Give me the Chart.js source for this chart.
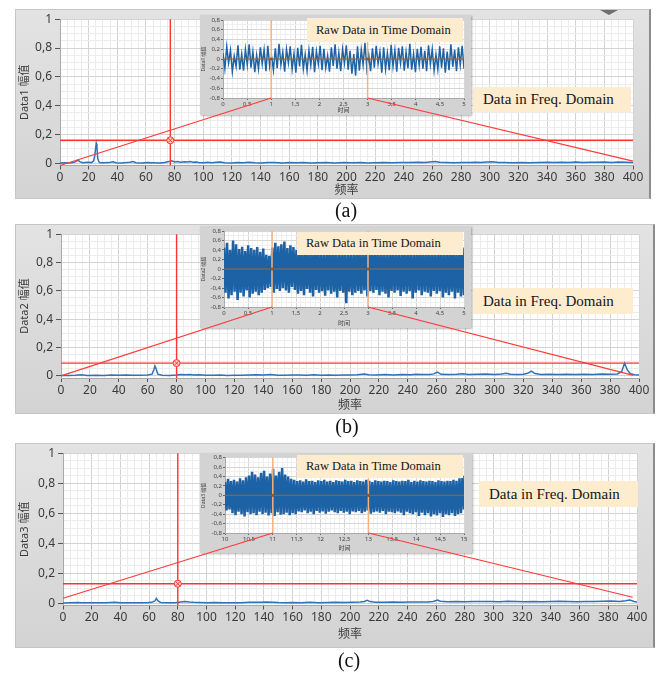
<!DOCTYPE html>
<html>
<head>
<meta charset="utf-8">
<script src="https://cdn.jsdelivr.net/npm/chart.js@4.4.0/dist/chart.umd.min.js"></script>
<style>
body{margin:0;background:#fff;width:662px;height:673px;position:relative;overflow:hidden}
.frame{position:absolute;box-sizing:border-box;background:linear-gradient(#e3e3e3,#d3d3d3);border:1px solid #c6c6c6;border-right:2px solid #8c8c8c}
.inset{position:absolute;background:#d3d3d3;box-shadow:1px 1px 2px rgba(0,0,0,.3)}
.tag{position:absolute;box-sizing:border-box;background:#fdecce;font-family:"Liberation Serif",serif;color:#151515;display:flex;align-items:center;white-space:nowrap}
.cap{position:absolute;font-family:"Liberation Serif",serif;font-size:20px;color:#111;transform:translate(-50%,-50%)}
canvas{position:absolute}
.tri{position:absolute;left:600px;top:10px;width:0;height:0;border-left:9px solid transparent;border-right:9px solid transparent;border-top:5px solid #6e6e6e}
</style>
</head>
<body>
<script>
// ---- data ----
var spectrumA = [[0,0.003],[3,0.004],[6,0.003],[9,0.006],[11,0.012],[12.5,0.022],[14,0.01],[16,0.004],[19,0.007],[22,0.005],[23.5,0.018],[24.3,0.055],[24.8,0.1],[25.3,0.138],[25.8,0.11],[26.4,0.03],[27.5,0.006],[30,0.004],[34,0.005],[37,0.011],[39,0.004],[43,0.003],[46,0.005],[49,0.008],[51,0.013],[53,0.004],[57,0.003],[61,0.005],[65,0.004],[69,0.003],[73,0.006],[76,0.012],[78,0.017],[80,0.009],[82,0.013],[84,0.008],[87,0.011],[89,0.009],[91,0.012],[93,0.007],[95,0.01],[97,0.006],[100,0.004],[103,0.008],[106,0.004],[109,0.007],[112,0.01],[115,0.004],[120,0.003],[124,0.005],[128,0.004],[132,0.007],[136,0.004],[140,0.003],[145,0.005],[150,0.006],[155,0.003],[160,0.005],[165,0.004],[170,0.006],[175,0.003],[180,0.004],[186,0.005],[192,0.003],[198,0.005],[204,0.004],[210,0.006],[215,0.003],[220,0.004],[226,0.005],[232,0.004],[238,0.006],[244,0.005],[250,0.007],[255,0.005],[258,0.009],[262,0.013],[265,0.007],[270,0.005],[275,0.004],[280,0.006],[286,0.005],[290,0.008],[294,0.006],[298,0.009],[302,0.011],[306,0.006],[310,0.005],[316,0.004],[322,0.005],[328,0.004],[334,0.006],[340,0.007],[345,0.005],[350,0.008],[355,0.006],[360,0.009],[365,0.006],[370,0.008],[375,0.007],[380,0.009],[385,0.006],[390,0.009],[395,0.007],[400,0.005]];
var spectrumB = [[0,0.002],[5,0.003],[10,0.004],[14,0.008],[18,0.003],[24,0.005],[30,0.003],[35,0.006],[40,0.004],[45,0.007],[50,0.005],[55,0.004],[60,0.006],[63,0.012],[64.3,0.045],[65,0.07],[65.8,0.05],[67,0.012],[70,0.004],[75,0.003],[80,0.006],[83,0.01],[86,0.008],[89,0.01],[92,0.006],[96,0.008],[100,0.005],[105,0.004],[110,0.006],[115,0.003],[120,0.005],[125,0.004],[130,0.007],[135,0.008],[140,0.007],[145,0.009],[150,0.005],[155,0.004],[160,0.006],[165,0.007],[170,0.005],[175,0.008],[180,0.004],[185,0.006],[190,0.005],[195,0.007],[200,0.006],[205,0.008],[210,0.014],[213,0.008],[218,0.006],[224,0.009],[230,0.007],[236,0.01],[242,0.008],[246,0.012],[250,0.009],[255,0.01],[258,0.014],[260.5,0.026],[263,0.011],[268,0.009],[274,0.012],[278,0.015],[282,0.009],[288,0.011],[294,0.013],[300,0.01],[305,0.014],[308,0.018],[311,0.012],[316,0.01],[320,0.012],[323,0.018],[325.5,0.033],[328,0.016],[332,0.01],[338,0.011],[344,0.009],[350,0.012],[356,0.01],[362,0.012],[368,0.01],[374,0.013],[380,0.011],[385,0.014],[388,0.03],[390,0.09],[392,0.04],[394,0.015],[397,0.008],[400,0.006]];
var spectrumC = [[0,0.002],[5,0.003],[10,0.005],[13,0.003],[18,0.004],[24,0.003],[30,0.004],[36,0.006],[40,0.004],[46,0.003],[52,0.004],[58,0.003],[62,0.006],[64,0.015],[65,0.032],[66.2,0.015],[68,0.005],[72,0.003],[78,0.004],[82,0.008],[85,0.011],[88,0.008],[91,0.006],[95,0.005],[100,0.004],[106,0.005],[112,0.004],[118,0.003],[124,0.004],[130,0.006],[134,0.007],[138,0.006],[142,0.008],[146,0.007],[150,0.005],[155,0.004],[160,0.005],[166,0.004],[172,0.006],[178,0.004],[184,0.005],[190,0.006],[196,0.005],[202,0.007],[207,0.008],[210,0.012],[212,0.02],[214,0.011],[218,0.007],[224,0.006],[230,0.008],[236,0.007],[242,0.009],[248,0.008],[254,0.009],[258,0.012],[261,0.021],[263,0.013],[268,0.01],[274,0.011],[280,0.01],[286,0.012],[292,0.011],[298,0.012],[304,0.01],[310,0.013],[316,0.011],[322,0.01],[328,0.012],[334,0.01],[340,0.011],[346,0.013],[352,0.011],[358,0.01],[364,0.012],[370,0.011],[376,0.013],[382,0.015],[388,0.012],[392,0.016],[395,0.022],[398,0.012],[400,0.008]];

var timeA = [0.12,-0.2,0.25,-0.08,0.18,-0.26,0.06,-0.15,0.28,-0.22,
  0.1,-0.24,0.2,-0.12,0.3,-0.18,0.15,-0.27,0.08,-0.2,
  0.24,-0.1,0.19,-0.25,0.27,-0.16,0.05,-0.23,0.22,-0.19,
  0.31,-0.12,0.14,-0.26,0.2,-0.08,0.26,-0.21,0.11,-0.28,
  0.23,-0.15,0.29,-0.2,0.09,-0.24,0.18,-0.13,0.25,-0.27,
  0.16,-0.1,0.27,-0.23,0.21,-0.18,0.07,-0.26,0.24,-0.14,
  0.3,-0.2,0.13,-0.25,0.2,-0.09,0.28,-0.22,0.17,-0.3,
  0.1,-0.34,0.26,-0.24,0.19,-0.12,0.33,-0.2,0.08,-0.25,
  0.22,-0.18,0.27,-0.1,0.15,-0.28,0.24,-0.21,0.12,-0.23,
  0.29,-0.15,0.18,-0.26,0.23,-0.09,0.26,-0.24,0.14,-0.19,
  0.31,-0.22,0.1,-0.27,0.21,-0.13,0.25,-0.2,0.17,-0.25,
  0.28,-0.11,0.2,-0.24,0.09,-0.21,0.26,-0.18,0.22,-0.28,
  0.15,-0.23,0.3,-0.16,0.19,-0.25,0.24,-0.12,0.27,-0.2];
var timeB = [0.45,-0.5,0.55,-0.62,0.4,-0.55,0.6,-0.48,0.52,-0.65,
  0.42,-0.5,0.47,-0.58,0.38,-0.45,0.5,-0.6,0.44,-0.52,
  0.4,-0.48,0.46,-0.55,0.36,-0.5,0.43,-0.44,0.3,-0.4,
  0.28,-0.38,0.45,-0.5,0.55,-0.42,0.48,-0.46,0.52,-0.4,
  0.58,-0.45,0.44,-0.5,0.5,-0.38,0.46,-0.44,0.4,-0.52,
  0.42,-0.46,0.38,-0.55,0.44,-0.42,0.36,-0.5,0.4,-0.58,
  0.43,-0.44,0.37,-0.5,0.41,-0.47,0.35,-0.56,0.42,-0.45,
  0.39,-0.52,0.44,-0.48,0.36,-0.6,0.4,-0.46,0.38,-0.5,
  0.42,-0.72,0.37,-0.48,0.41,-0.55,0.35,-0.5,0.44,-0.46,
  0.38,-0.52,0.4,-0.45,0.36,-0.58,0.43,-0.47,0.39,-0.5,
  0.41,-0.44,0.37,-0.55,0.42,-0.48,0.36,-0.52,0.4,-0.6,
  0.38,-0.46,0.43,-0.5,0.35,-0.45,0.41,-0.57,0.39,-0.48,
  0.44,-0.52,0.37,-0.47,0.4,-0.62,0.36,-0.5,0.42,-0.45,
  0.39,-0.55,0.41,-0.48,0.38,-0.5,0.43,-0.58,0.37,-0.46,
  0.4,-0.52,0.36,-0.47,0.42,-0.6,0.38,-0.5,0.41,-0.55,
  0.39,-0.48,0.44,-0.62,0.37,-0.5,0.42,-0.58,0.45,-0.55];
var timeC = [0.28,-0.32,0.35,-0.3,0.3,-0.38,0.33,-0.42,0.29,-0.35,
  0.36,-0.4,0.32,-0.45,0.38,-0.36,0.42,-0.4,0.5,-0.38,
  0.44,-0.42,0.38,-0.35,0.48,-0.4,0.52,-0.37,0.4,-0.43,
  0.46,-0.38,0.56,-0.44,0.42,-0.36,0.5,-0.41,0.58,-0.4,
  0.44,-0.37,0.4,-0.42,0.35,-0.38,0.33,-0.4,0.3,-0.34,
  0.32,-0.36,0.29,-0.32,0.34,-0.38,0.3,-0.35,0.31,-0.4,
  0.28,-0.33,0.32,-0.37,0.3,-0.34,0.33,-0.39,0.29,-0.35,
  0.31,-0.32,0.28,-0.36,0.32,-0.38,0.3,-0.33,0.29,-0.37,
  0.33,-0.35,0.3,-0.4,0.31,-0.34,0.28,-0.36,0.32,-0.33,
  0.3,-0.38,0.29,-0.35,0.33,-0.32,0.31,-0.39,0.28,-0.36,
  0.32,-0.34,0.3,-0.37,0.29,-0.33,0.31,-0.4,0.3,-0.35,
  0.28,-0.36,0.32,-0.38,0.3,-0.34,0.29,-0.37,0.31,-0.42,
  0.3,-0.35,0.33,-0.38,0.28,-0.4,0.31,-0.36,0.29,-0.44,
  0.32,-0.37,0.3,-0.42,0.29,-0.38,0.31,-0.45,0.3,-0.4,
  0.28,-0.43,0.32,-0.38,0.3,-0.46,0.29,-0.4,0.31,-0.42,
  0.3,-0.38,0.33,-0.44,0.31,-0.4,0.36,-0.38,0.42,-0.3];

var seriesNames = ['Data1 幅值', 'Data2 幅值', 'Data3 幅值'];
var captions = ['(a)', '(b)', '(c)'];
var timeRanges = [[0, 5], [0, 5], [10, 15]];
var cursorFreq = [77, 80, 80];
var cursorMag = [0.16, 0.09, 0.13];
var timeCursors = [[1, 3], [1, 3], [11, 13]];
var linkStartMag = [-0.015, 0, 0.033];
var linkEnd = [[400, 0.015], [396, 0.004], [397, 0.04]];

var spectra = [spectrumA, spectrumB, spectrumC];
var times = [timeA, timeB, timeC];

// ---- page layout (px) ----
var layout = [
  {frame: [15, 9, 636, 190], plot: [60, 16, 633, 165.5], inset: [200, 15, 271, 100], iplot: [223, 20, 464, 98],
   timeTag: [307, 18, 156, 24], freqTag: [473, 87, 158, 25], cap: [346, 210], titlePad: 1, lineW: 1.5},
  {frame: [15, 224, 640, 190], plot: [61, 231, 639, 378], inset: [200, 226, 271, 102], iplot: [224, 231, 464, 307],
   timeTag: [297, 232, 166, 23], freqTag: [473, 288, 160, 26], cap: [347, 426], titlePad: 1, lineW: 2.5},
  {frame: [15, 443, 640, 205], plot: [63, 451, 637, 605.5], inset: [200, 453, 272, 100], iplot: [225, 457, 464, 533],
   timeTag: [297, 455, 166, 23], freqTag: [479, 481, 159, 26], cap: [349, 660], titlePad: 6, lineW: 2.5}
];

var FONT = '"Noto Sans", "Noto Sans CJK SC", sans-serif';

function isMajor(v, step) {
  return Math.abs(v / step - Math.round(v / step)) < 1e-6;
}
function fmt(v) {
  return String(Math.round(v * 100) / 100).replace('.', ',');
}

function addDiv(cls, box) {
  var d = document.createElement('div');
  d.className = cls;
  d.style.left = box[0] + 'px';
  d.style.top = box[1] + 'px';
  d.style.width = box[2] + 'px';
  d.style.height = box[3] + 'px';
  document.body.appendChild(d);
  return d;
}
function addCanvas(box) {
  var c = document.createElement('canvas');
  c.width = box[2];
  c.height = box[3];
  c.style.left = box[0] + 'px';
  c.style.top = box[1] + 'px';
  document.body.appendChild(c);
  return c;
}

var whiteArea = {
  id: 'whiteArea',
  beforeDraw: function (chart) {
    var a = chart.chartArea, c = chart.ctx;
    c.save();
    c.fillStyle = '#fff';
    c.fillRect(a.left, a.top, a.right - a.left, a.bottom - a.top);
    c.restore();
  }
};

var redCursor = {
  id: 'redCursor',
  afterDatasetsDraw: function (chart, args, opts) {
    var a = chart.chartArea, c = chart.ctx;
    var px = chart.scales.x.getPixelForValue(opts.x);
    var py = chart.scales.y.getPixelForValue(opts.y);
    c.save();
    c.strokeStyle = '#ff3535';
    c.lineWidth = 1.4;
    c.beginPath();
    c.moveTo(px, a.top); c.lineTo(px, a.bottom);
    c.moveTo(a.left, py); c.lineTo(a.right, py);
    c.stroke();
    c.fillStyle = '#ffd0d0';
    c.lineWidth = 1;
    c.beginPath();
    c.arc(px, py, 3.5, 0, Math.PI * 2);
    c.fill(); c.stroke();
    c.beginPath();
    c.moveTo(px - 2.3, py - 2.3); c.lineTo(px + 2.3, py + 2.3);
    c.moveTo(px + 2.3, py - 2.3); c.lineTo(px - 2.3, py + 2.3);
    c.stroke();
    c.restore();
  }
};

var orangeCursor = {
  id: 'orangeCursor',
  afterDatasetsDraw: function (chart, args, opts) {
    var a = chart.chartArea, c = chart.ctx;
    var y0 = chart.scales.y.getPixelForValue(0);
    c.save();
    c.strokeStyle = '#9a6a30';
    c.lineWidth = 1;
    c.beginPath();
    c.moveTo(a.left, y0); c.lineTo(a.right, y0);
    c.stroke();
    c.strokeStyle = '#f7b27c';
    c.lineWidth = 1.5;
    opts.t.forEach(function (t) {
      var px = chart.scales.x.getPixelForValue(t);
      c.beginPath();
      c.moveTo(px, a.top); c.lineTo(px, a.bottom);
      c.stroke();
    });
    c.fillStyle = '#8a5a20';
    opts.t.forEach(function (t) {
      var px = chart.scales.x.getPixelForValue(t);
      c.beginPath();
      c.arc(px, y0, 1.6, 0, Math.PI * 2);
      c.fill();
    });
    c.restore();
  }
};

function makeMain(i) {
  var g = layout[i];
  var cv = addCanvas(g.frame);
  var fBottom = g.frame[1] + g.frame[3];
  return new Chart(cv, {
    type: 'line',
    data: {
      datasets: [{
        data: spectra[i].map(function (p) { return {x: p[0], y: p[1]}; }),
        borderColor: '#2f73b6',
        borderWidth: 1.5,
        pointRadius: 0,
        tension: 0
      }]
    },
    options: {
      responsive: false,
      animation: false,
      events: [],
      layout: {padding: {left: 0, bottom: 0, top: g.plot[1] - g.frame[1], right: g.frame[0] + g.frame[2] - g.plot[2]}},
      plugins: {legend: {display: false}, tooltip: {enabled: false}, redCursor: {x: cursorFreq[i], y: cursorMag[i]}},
      scales: {
        x: {
          type: 'linear', min: 0, max: 400,
          afterFit: function (s) { s.height = fBottom - g.plot[3]; },
          ticks: {stepSize: 5, autoSkip: false, maxRotation: 0, minRotation: 0, padding: 1, color: '#3a3a3a',
            font: {family: FONT, size: 12},
            callback: function (v) { return isMajor(v, 20) ? String(v) : ''; }},
          grid: {
            color: function (c) { return c.tick && isMajor(c.tick.value, 20) ? '#d3d3d3' : '#ececec'; },
            tickColor: function (c) { return c.tick && isMajor(c.tick.value, 20) ? '#555' : 'rgba(0,0,0,0)'; },
            tickLength: 4
          },
          border: {color: '#a8a8a8'},
          title: {display: true, text: '频率', color: '#3a3a3a', font: {family: FONT, size: 12}, padding: {top: 0, bottom: g.titlePad}}
        },
        y: {
          min: -0.015, max: 1,
          afterFit: function (s) { s.width = g.plot[0] - g.frame[0]; },
          ticks: {stepSize: 0.05, includeBounds: false, autoSkip: false, padding: 3, color: '#3a3a3a',
            font: {family: FONT, size: 12},
            callback: function (v) { return isMajor(v, 0.2) ? fmt(v) : ''; }},
          grid: {
            color: function (c) { return c.tick && isMajor(c.tick.value, 0.2) ? '#d3d3d3' : '#ececec'; },
            tickColor: function (c) { return c.tick && isMajor(c.tick.value, 0.2) ? '#555' : 'rgba(0,0,0,0)'; },
            tickLength: 5
          },
          border: {color: '#a8a8a8'},
          title: {display: true, text: seriesNames[i], color: '#3a3a3a', font: {family: FONT, size: 11}, padding: {top: 3, bottom: 0}}
        }
      }
    },
    plugins: [whiteArea, redCursor]
  });
}

function makeInset(i) {
  var g = layout[i];
  addDiv('inset', g.inset);
  var cv = addCanvas(g.inset);
  var tr = timeRanges[i], vals = times[i], n = vals.length;
  var iBottom = g.inset[1] + g.inset[3];
  return new Chart(cv, {
    type: 'line',
    data: {
      datasets: [{
        data: vals.map(function (v, k) { return {x: tr[0] + k * (tr[1] - tr[0]) / (n - 1), y: v}; }),
        borderColor: '#1e62a6',
        borderWidth: g.lineW,
        pointRadius: 0,
        tension: 0
      }]
    },
    options: {
      responsive: false,
      animation: false,
      events: [],
      layout: {padding: {left: 0, bottom: 0, top: g.iplot[1] - g.inset[1], right: g.inset[0] + g.inset[2] - g.iplot[2]}},
      plugins: {legend: {display: false}, tooltip: {enabled: false}, orangeCursor: {t: timeCursors[i]}},
      scales: {
        x: {
          type: 'linear', min: tr[0], max: tr[1],
          afterFit: function (s) { s.height = iBottom - g.iplot[3]; },
          ticks: {stepSize: 0.1, autoSkip: false, maxRotation: 0, minRotation: 0, padding: 1, color: '#444',
            font: {family: FONT, size: 6},
            callback: function (v) { return isMajor(v, 0.5) ? fmt(v) : ''; }},
          grid: {
            color: function (c) { return c.tick && isMajor(c.tick.value, 0.5) ? '#d6d6d6' : '#efefef'; },
            tickColor: function (c) { return c.tick && isMajor(c.tick.value, 0.5) ? '#666' : 'rgba(0,0,0,0)'; },
            tickLength: 2
          },
          border: {color: '#aaa'},
          title: {display: true, text: '时间', color: '#444', font: {family: FONT, size: 6}, padding: {top: 0, bottom: 1}}
        },
        y: {
          min: -0.8, max: 0.8,
          afterFit: function (s) { s.width = g.iplot[0] - g.inset[0]; },
          ticks: {stepSize: 0.1, autoSkip: false, padding: 1, color: '#444',
            font: {family: FONT, size: 6},
            callback: function (v) { return isMajor(v, 0.2) ? fmt(v) : ''; }},
          grid: {
            color: function (c) { return c.tick && isMajor(c.tick.value, 0.2) ? '#d6d6d6' : '#efefef'; },
            tickColor: function (c) { return c.tick && isMajor(c.tick.value, 0.2) ? '#666' : 'rgba(0,0,0,0)'; },
            tickLength: 2
          },
          border: {color: '#aaa'},
          title: {display: true, text: seriesNames[i], color: '#444', font: {family: FONT, size: 5}, padding: {top: 1, bottom: 0}}
        }
      }
    },
    plugins: [whiteArea, orangeCursor]
  });
}

function addTag(box, text, size, pad) {
  var d = addDiv('tag', box);
  d.style.fontSize = size + 'px';
  d.style.paddingLeft = pad + 'px';
  d.textContent = text;
}

var mains = [], insets = [];
for (var i = 0; i < 3; i++) {
  var g = layout[i];
  addDiv('frame', g.frame);
  mains.push(makeMain(i));
  insets.push(makeInset(i));
  addTag(g.timeTag, 'Raw Data in Time Domain', 12.5, 9);
  addTag(g.freqTag, 'Data in Freq. Domain', 15, 10);
  var cp = document.createElement('div');
  cp.className = 'cap';
  cp.style.left = g.cap[0] + 'px';
  cp.style.top = g.cap[1] + 'px';
  cp.textContent = captions[i];
  document.body.appendChild(cp);
}
addDiv('tri', [600, 10, 0, 0]);

// connector lines between the spectrum and the time-domain window
var ov = addCanvas([0, 0, 662, 673]);
var oc = ov.getContext('2d');
oc.strokeStyle = '#ff3a3a';
oc.lineWidth = 1.2;
for (var k = 0; k < 3; k++) {
  var m = mains[k], s = insets[k], gk = layout[k];
  var fx = gk.frame[0], fy = gk.frame[1], ix = gk.inset[0], iy = gk.inset[1];
  var p0 = [fx + m.scales.x.getPixelForValue(0), fy + m.scales.y.getPixelForValue(linkStartMag[k])];
  var p1 = [ix + s.scales.x.getPixelForValue(timeCursors[k][0]), iy + s.chartArea.bottom];
  var p2 = [ix + s.scales.x.getPixelForValue(timeCursors[k][1]), iy + s.chartArea.bottom];
  var p3 = [fx + m.scales.x.getPixelForValue(linkEnd[k][0]), fy + m.scales.y.getPixelForValue(linkEnd[k][1])];
  oc.beginPath();
  oc.moveTo(p0[0], p0[1]); oc.lineTo(p1[0], p1[1]);
  oc.moveTo(p2[0], p2[1]); oc.lineTo(p3[0], p3[1]);
  oc.stroke();
}
</script>
</body>
</html>
